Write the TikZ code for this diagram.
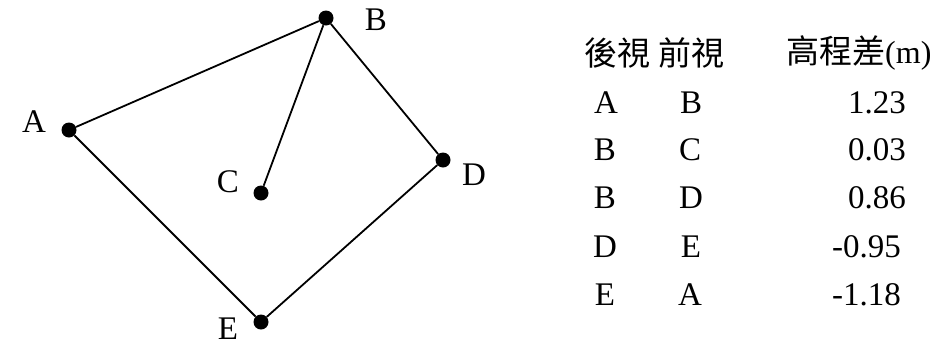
\documentclass[tikz,border=0pt]{standalone}
\usepackage{fontspec}
\setmainfont{Liberation Serif}
\newfontfamily\cjk{Noto Sans CJK TC}
\begin{document}
\begin{tikzpicture}[x=1pt,y=-1pt,
  dot/.style={circle,fill=black,inner sep=0pt,minimum size=15pt},
  lbl/.style={font=\fontsize{33}{40}\selectfont,inner sep=0pt},
  hdr/.style={font=\fontsize{33}{40}\selectfont\cjk,inner sep=0pt},
  edge/.style={line width=1.8pt}]
\useasboundingbox (0,0) rectangle (938,346);
% points
\node[dot] (A) at (69,130) {};
\node[dot] (B) at (326,18) {};
\node[dot] (C) at (261,193) {};
\node[dot] (D) at (443,160) {};
\node[dot] (E) at (261,322) {};
\draw[edge] (A) -- (B);
\draw[edge] (B) -- (C);
\draw[edge] (B) -- (D);
\draw[edge] (D) -- (E);
\draw[edge] (E) -- (A);
% labels
\node[lbl] (lA) at (34,122) {A};
\node[lbl] (lB) at (376,20) {B};
\node[lbl] (lC) at (228,182) {C};
\node[lbl] (lD) at (474,175) {D};
\node[lbl] (lE) at (228,329) {E};
% header
\node[hdr] (h1) at (617,53) {後視};
\node[hdr] (h2) at (691,53) {前視};
\node[hdr,anchor=west] (h3) at (786,53) {高程差\fontsize{32}{38}\selectfont\rmfamily(m)};
% rows
\node[lbl] (r1a) at (606,103) {A};
\node[lbl] (r1b) at (691,103) {B};
\node[lbl,anchor=east] (r1c) at (906,103) {1.23};
\node[lbl] (r2a) at (605,150) {B};
\node[lbl] (r2b) at (690,150) {C};
\node[lbl,anchor=east] (r2c) at (906,150) {0.03};
\node[lbl] (r3a) at (605,198) {B};
\node[lbl] (r3b) at (691,198) {D};
\node[lbl,anchor=east] (r3c) at (906,198) {0.86};
\node[lbl] (r4a) at (605,247) {D};
\node[lbl] (r4b) at (691,247) {E};
\node[lbl,anchor=east] (r4c) at (901,247) {-0.95};
\node[lbl] (r5a) at (605,295) {E};
\node[lbl] (r5b) at (690,295) {A};
\node[lbl,anchor=east] (r5c) at (901,295) {-1.18};
\end{tikzpicture}
\end{document}
